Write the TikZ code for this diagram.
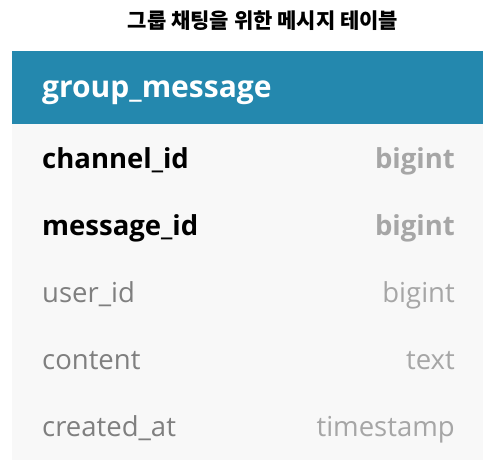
\documentclass[tikz,border=0pt]{standalone}
\usepackage{fontspec}
\setmainfont{Open Sans}
\newfontfamily\kfont{Noto Sans CJK KR}
\definecolor{hdr}{HTML}{2488AE}
\definecolor{rowbg}{HTML}{F8F8F8}
\definecolor{namegray}{HTML}{7F7F7F}
\definecolor{typegray}{HTML}{A6A6A6}
\begin{document}
\begin{tikzpicture}[x=1pt,y=-1pt,
  fname/.style={anchor=base west,inner sep=0pt,font=\fontsize{27.5}{32}\selectfont},
  ftype/.style={anchor=base east,inner sep=0pt,font=\fontsize{27.5}{32}\selectfont},
  keyname/.style={fname,font=\fontsize{27.5}{32}\selectfont\bfseries,text=black},
  keytype/.style={ftype,font=\fontsize{27.5}{32}\selectfont\bfseries,text=typegray},
  plainname/.style={fname,text=namegray},
  plaintype/.style={ftype,text=typegray}]
\useasboundingbox (0,0) rectangle (500,471);
\fill[white] (0,0) rectangle (500,471);
\node[font=\kfont\bfseries\fontsize{21}{24}\selectfont,inner sep=0pt] (title) at (263,21) {그룹 채팅을 위한 메시지 테이블};
\fill[rowbg] (12,124) rectangle (483,460);
\fill[hdr] (12,51) rectangle (483,124);
\node[anchor=base west,inner sep=0pt,text=white,font=\fontsize{30}{34}\selectfont\bfseries] (tname) at (42,97) {group\_message};
\node[keyname] (n1) at (42,168) {channel\_id};
\node[keytype] (t1) at (455,168) {bigint};
\node[keyname] (n2) at (42,235) {message\_id};
\node[keytype] (t2) at (455,235) {bigint};
\node[plainname] (n3) at (42,302) {user\_id};
\node[plaintype] (t3) at (455,302) {bigint};
\node[plainname] (n4) at (42,369) {content};
\node[plaintype] (t4) at (455,369) {text};
\node[plainname] (n5) at (42,436) {created\_at};
\node[plaintype] (t5) at (455,436) {timestamp};
\end{tikzpicture}
\end{document}
